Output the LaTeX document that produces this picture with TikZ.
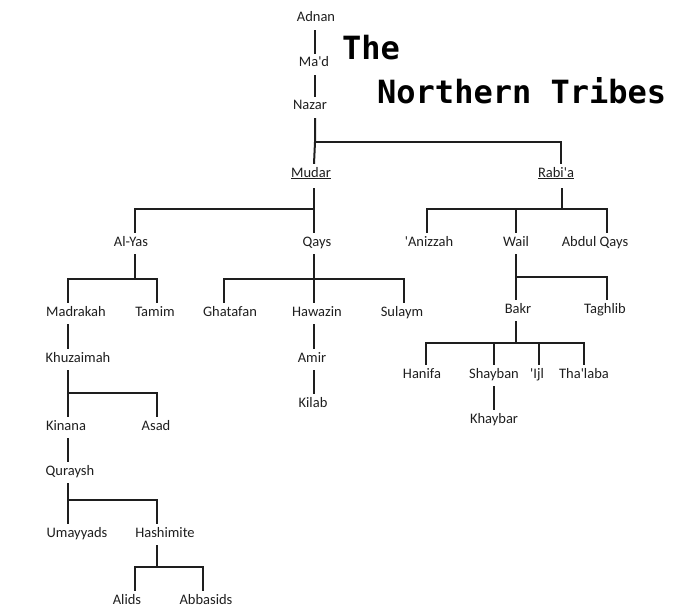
\documentclass[tikz,border=0pt]{standalone}
\usepackage{fontspec}
\setmainfont{Carlito}[Ligatures=TeXOff]
\newfontfamily\titlefont{DejaVu Sans Mono}
\usepackage{tikz}
\usetikzlibrary{calc}
\definecolor{inkgray}{HTML}{1E1E1E}

\begin{document}
\begin{tikzpicture}[x=1pt,y=-1pt,
    tribe/.style={anchor=base,inner xsep=0pt,inner ysep=3pt,text height=10pt,text depth=5pt,
      text=inkgray,font=\fontsize{14.5}{17}\selectfont},
    branch/.style={tribe,text depth=8pt},
    link/.style={draw=inkgray,line width=2pt}]
                      \useasboundingbox (0,0) rectangle (696,615);
                      % title
                      \node[anchor=base west,inner sep=0pt,font=\titlefont\bfseries\fontsize{32}{36}\selectfont](t1)at(342,60){The};
                      \node[anchor=base west,inner sep=0pt,font=\titlefont\bfseries\fontsize{32}{36}\selectfont](t2)at(377,104){Northern Tribes};
                      % the tribes
                      \node[tribe](adnan)at(316,22){Adnan};
                      \node[tribe](madd)at(314,67){Ma'd};
                      \node[tribe](nazar)at(310,110){Nazar};
                      \node[branch](mudar)at(311,177){\underline{Mudar}};
                      \node[branch](rabia)at(556,177){\underline{Rabi'a}};
                      \node[tribe](alyas)at(131,246){Al-Yas};
                      \node[tribe](qays)at(317,246){Qays};
                      \node[tribe](anizzah)at(429,246){'Anizzah};
                      \node[tribe](wail)at(516,246){Wail};
                      \node[tribe](abdul)at(595,246){Abdul Qays};
                      \node[tribe](madrakah)at(76,316){Madrakah};
                      \node[tribe](tamim)at(155,316){Tamim};
                      \node[tribe](ghatafan)at(230,316){Ghatafan};
                      \node[tribe](hawazin)at(317,316){Hawazin};
                      \node[tribe](sulaym)at(402,316){Sulaym};
                      \node[tribe](bakr)at(518,313){Bakr};
                      \node[tribe](taghlib)at(605,313){Taghlib};
                      \node[tribe](khuz)at(78,362){Khuzaimah};
                      \node[tribe](amir)at(312,362){Amir};
                      \node[tribe](kilab)at(313,407){Kilab};
                      \node[tribe](hanifa)at(422,378){Hanifa};
                      \node[tribe](shayban)at(494,378){Shayban};
                      \node[tribe](ijl)at(537,378){'Ijl};
                      \node[tribe](thalaba)at(584,378){Tha'laba};
                      \node[tribe](khaybar)at(494,423){Khaybar};
                      \node[tribe](kinana)at(66,430){Kinana};
                      \node[tribe](asad)at(156,430){Asad};
                      \node[tribe](quraysh)at(70,475){Quraysh};
                      \node[tribe](umayyads)at(77,537){Umayyads};
                      \node[tribe](hashimite)at(165,537){Hashimite};
                      \node[tribe](alids)at(127,604){Alids};
                      \node[tribe](abbasids)at(206,604){Abbasids};
                      % junctions
                      \coordinate(jnazar)at(315,142);
                      \coordinate(jmudar)at(314,209);
                      \coordinate(jrabia)at(562,209);
                      \coordinate(jalyas)at(135,279);
                      \coordinate(jqays)at(314,279);
                      \coordinate(jwail)at(516,277);
                      \coordinate(jbakr)at(516,343);
                      \coordinate(jkhuz)at(68,393);
                      \coordinate(jquraysh)at(68,500);
                      \coordinate(jhashimite)at(157,567);
                      % connectors
                      \draw[link] (adnan.south -| jnazar)--(madd.north -| jnazar);
                      \draw[link] (madd.south -| jnazar)--(nazar.north -| jnazar);
                      \draw[link] (nazar.south -| jnazar)--(jnazar)--([xshift=3pt]mudar.north);
                      \draw[link] (jnazar)-|([xshift=5pt]rabia.north);
                      \draw[link] (mudar.south -| jmudar)--(jmudar)--([xshift=-3pt]qays.north);
                      \draw[link] (jmudar)-|([xshift=4pt]alyas.north);
                      \draw[link] (rabia.south -| jrabia)--(jrabia)-|([xshift=-2pt]anizzah.north);
                      \draw[link] (jrabia)-|(wail.north);
                      \draw[link] (jrabia)-|([xshift=12pt]abdul.north);
                      \draw[link] (alyas.south -| jalyas)--(jalyas)-|([xshift=-8pt]madrakah.north);
                      \draw[link] (jalyas)-|([xshift=2pt]tamim.north);
                      \draw[link] (qays.south -| jqays)--(jqays)-|([xshift=-6pt]ghatafan.north);
                      \draw[link] (jqays)-|([xshift=-3pt]hawazin.north);
                      \draw[link] (jqays)-|([xshift=2pt]sulaym.north);
                      \draw[link] (wail.south -| jwail)--(jwail)-|([xshift=-2pt]bakr.north);
                      \draw[link] (jwail)-|([xshift=2pt]taghlib.north);
                      \draw[link] (madrakah.south -| jkhuz)--(khuz.north -| jkhuz);
                      \draw[link] (hawazin.south -| jqays)--(amir.north -| jqays);
                      \draw[link] (amir.south -| jqays)--(kilab.north -| jqays);
                      \draw[link] (bakr.south -| jbakr)--(jbakr)-|([xshift=4pt]hanifa.north);
                      \draw[link] (jbakr)-|(shayban.north);
                      \draw[link] (jbakr)-|([xshift=2pt]ijl.north);
                      \draw[link] (jbakr)-|(thalaba.north);
                      \draw[link] (shayban.south)--(khaybar.north);
                      \draw[link] (khuz.south -| jkhuz)--(jkhuz)-|([xshift=2pt]kinana.north);
                      \draw[link] (jkhuz)-|([xshift=1pt]asad.north);
                      \draw[link] (kinana.south -| jquraysh)--(quraysh.north -| jquraysh);
                      \draw[link] (quraysh.south -| jquraysh)--(jquraysh)-|([xshift=-9pt]umayyads.north);
                      \draw[link] (jquraysh)-|([xshift=-8pt]hashimite.north);
                      \draw[link] (hashimite.south -| jhashimite)--(jhashimite)-|([xshift=8pt]alids.north);
                      \draw[link] (jhashimite)-|([xshift=-3pt]abbasids.north);
                  \end{tikzpicture}
\end{document}
